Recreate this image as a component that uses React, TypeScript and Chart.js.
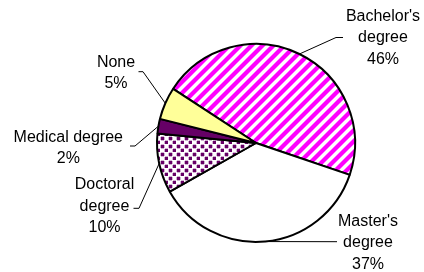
import React, { useEffect, useRef } from "react";
import { Chart, registerables } from "chart.js";

Chart.register(...registerables);

// ---- data ----
const categories = ["Bachelor's degree", "Master's degree", "Doctoral degree", "Medical degree", "None"];
const shares = [46.0, 36.6, 9.7, 2.4, 5.3];
const labelLines = [["Bachelor's", "degree"], ["Master's", "degree"], ["Doctoral", "degree"], ["Medical degree"], ["None"]];

// ---- layout (offsets from pie centre) ----
const labelLayout = [
  { tx: 127, ty: -122.5, ex: 80, ey: -105.5, fx: 87, fy: -105.5 },
  { tx: 112, ty: 82.5, ex: 81, ey: 98.7, fx: 81, fy: 98.7 },
  { tx: -151.5, ty: 46, ex: -117, ey: 65.3, fx: -122.5, fy: 65.3 },
  { tx: -187.7, ty: -1.5, ex: -121, ey: 3, fx: -126, fy: 3 },
  { tx: -140, ty: -76.5, ex: -113, ey: -71.3, fx: -117.5, fy: -71.3 },
];

function stripePattern(): CanvasPattern | string {
  const s = 11;
  const c = document.createElement("canvas");
  c.width = s;
  c.height = s;
  const g = c.getContext("2d")!;
  g.fillStyle = "#ffffff";
  g.fillRect(0, 0, s, s);
  g.strokeStyle = "#ff00ff";
  g.lineWidth = 4.2;
  for (let k = -1; k <= 1; k++) {
    g.beginPath();
    g.moveTo(-s / 2 + k * s, s * 1.5);
    g.lineTo(s * 1.5 + k * s, -s / 2);
    g.stroke();
  }
  return g.createPattern(c, "repeat") || "#ff00ff";
}

function dotPattern(): CanvasPattern | string {
  const c = document.createElement("canvas");
  c.width = 8;
  c.height = 8;
  const g = c.getContext("2d")!;
  g.fillStyle = "#ffffff";
  g.fillRect(0, 0, 8, 8);
  g.fillStyle = "rgba(102,0,102,0.3)";
  g.fillRect(0, 1, 5, 3);
  g.fillRect(1, 0, 3, 5);
  g.fillRect(4, 5, 5, 3);
  g.fillRect(5, 4, 3, 5);
  g.fillStyle = "#660066";
  g.fillRect(1, 1, 3, 3);
  g.fillRect(5, 5, 3, 3);
  return g.createPattern(c, "repeat") || "#660066";
}

const labelPlugin = {
  id: "leaderLabels",
  afterDraw(chart: any) {
    const meta = chart.getDatasetMeta(0);
    const ctx = chart.ctx as CanvasRenderingContext2D;
    const values = chart.data.datasets[0].data as number[];
    const total = values.reduce((a, b) => a + b, 0);
    ctx.save();
    meta.data.forEach((arc: any, i: number) => {
      const { x, y, outerRadius, startAngle, endAngle } = arc.getProps(
        ["x", "y", "outerRadius", "startAngle", "endAngle"],
        true
      );
      const mid = (startAngle + endAngle) / 2;
      const px = x + Math.cos(mid) * outerRadius;
      const py = y + Math.sin(mid) * outerRadius;
      const L = labelLayout[i];
      ctx.strokeStyle = "#000";
      ctx.lineWidth = 1;
      ctx.beginPath();
      ctx.moveTo(px, py);
      ctx.lineTo(x + L.ex, y + L.ey);
      ctx.lineTo(x + L.fx, y + L.fy);
      ctx.stroke();
      const lines = [...labelLines[i], Math.round((values[i] / total) * 100) + "%"];
      ctx.fillStyle = "#000";
      ctx.font = '16px "Liberation Sans", Arial, sans-serif';
      ctx.textAlign = "center";
      ctx.textBaseline = "alphabetic";
      lines.forEach((t, j) => {
        ctx.fillText(t, x + L.tx, y + L.ty + j * 21.5);
      });
    });
    ctx.restore();
  },
};

export default function App() {
  const ref = useRef<HTMLCanvasElement>(null);
  useEffect(() => {
    if (!ref.current) return;
    const chart = new Chart(ref.current, {
      type: "pie",
      data: {
        labels: categories,
        datasets: [
          {
            data: shares,
            backgroundColor: [stripePattern(), "#ffffff", dotPattern(), "#660066", "#ffff99"],
            borderColor: "#000000",
            borderWidth: 2,
          },
        ],
      },
      options: {
        responsive: false,
        animation: false,
        rotation: -56.8,
        layout: { padding: { left: 156, right: 68, top: 43, bottom: 29 } },
        plugins: {
          legend: { display: false },
          tooltip: { enabled: false },
          title: { display: false },
        },
      },
      plugins: [labelPlugin],
    });
    return () => chart.destroy();
  }, []);
  return (
    <div style={{ position: "fixed", left: 0, top: 0, width: 424, height: 272, background: "#fff" }}>
      <canvas ref={ref} width={424} height={272} />
    </div>
  );
}
